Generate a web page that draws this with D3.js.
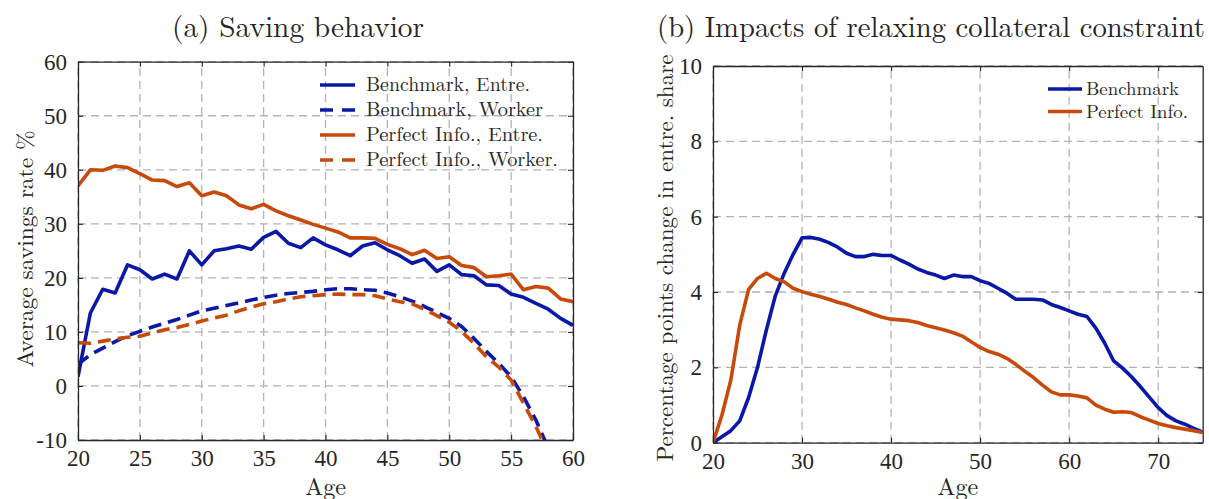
<!DOCTYPE html>
<html>
<head>
<meta charset="utf-8">
<script src="https://cdn.jsdelivr.net/npm/d3@7"></script>
<style>
  body { margin: 0; background: #fff; }
  svg text { font-family: "Latin Modern Roman", "CMU Serif", "Liberation Serif", serif; fill: #262626; }
</style>
</head>
<body>
<div id="chart"></div>
<script>
// panel (a): saving behavior
let agesA = d3.range(20, 61);
let benchEntre = [1.7, 13.5, 17.9, 17.2, 22.4, 21.5, 19.8, 20.7, 19.8, 25.0,
    22.4, 25.0, 25.4, 25.9, 25.3, 27.5, 28.6, 26.4, 25.6, 27.4,
    26.1, 25.2, 24.1, 25.9, 26.5, 25.2, 24.1, 22.7, 23.5, 21.2,
    22.4, 20.6, 20.4, 18.7, 18.6, 17.0, 16.4, 15.3, 14.2, 12.5, 11.2];
let benchWorker = [4.0, 5.8, 7.0, 8.2, 9.3, 10.1, 10.9, 11.6, 12.3, 13.1,
    13.9, 14.4, 14.9, 15.4, 15.9, 16.4, 16.8, 17.1, 17.3, 17.5,
    17.8, 18.0, 18.0, 17.8, 17.7, 17.2, 16.5, 15.7, 14.7, 13.6,
    12.5, 11.0, 8.8, 6.4, 4.2, 1.7, -2.0, -6.3, -11.5, -17.5, -24];
let perfEntre = [37.0, 40.0, 39.9, 40.7, 40.4, 39.3, 38.1, 38.0, 36.9, 37.6,
    35.2, 35.9, 35.2, 33.5, 32.8, 33.6, 32.4, 31.5, 30.7, 29.9,
    29.2, 28.5, 27.4, 27.4, 27.3, 26.2, 25.4, 24.3, 25.1, 23.6,
    23.9, 22.3, 21.9, 20.2, 20.4, 20.7, 17.8, 18.4, 18.1, 16.1, 15.6];
let perfWorker = [8.0, 7.9, 8.3, 8.7, 9.0, 9.2, 9.8, 10.4, 10.8, 11.4,
    12.0, 12.6, 13.1, 13.9, 14.6, 15.2, 15.6, 16.1, 16.5, 16.7,
    16.9, 17.0, 16.9, 16.9, 16.7, 16.1, 15.6, 15.2, 14.2, 13.0,
    11.8, 10.1, 7.9, 5.4, 3.5, 1.1, -3.2, -7.5, -12.5, -18, -25];
let xTicksA = [20, 25, 30, 35, 40, 45, 50, 55, 60];
let yTicksA = [-10, 0, 10, 20, 30, 40, 50, 60];
let legendA = ["Benchmark, Entre.", "Benchmark, Worker", "Perfect Info., Entre.", "Perfect Info., Worker."];

// panel (b): impacts of relaxing collateral constraint
let agesB = d3.range(20, 76);
let benchB = [0, 0.16, 0.32, 0.58, 1.2, 2.0, 3.0, 3.9, 4.5, 5.0,
    5.44, 5.45, 5.4, 5.31, 5.19, 5.03, 4.94, 4.94, 5.0, 4.97,
    4.97, 4.85, 4.74, 4.61, 4.52, 4.45, 4.36, 4.45, 4.41, 4.41,
    4.30, 4.23, 4.10, 3.97, 3.81, 3.81, 3.81, 3.79, 3.67, 3.59,
    3.50, 3.41, 3.35, 3.04, 2.64, 2.17, 1.98, 1.75, 1.49, 1.21,
    0.93, 0.72, 0.58, 0.49, 0.38, 0.28];
let perfB = [0, 0.73, 1.66, 3.12, 4.07, 4.36, 4.5, 4.36, 4.27, 4.10,
    4.01, 3.94, 3.88, 3.81, 3.73, 3.67, 3.58, 3.50, 3.41, 3.33,
    3.28, 3.26, 3.24, 3.19, 3.11, 3.05, 2.99, 2.92, 2.83, 2.68,
    2.53, 2.42, 2.35, 2.24, 2.08, 1.90, 1.73, 1.53, 1.35, 1.27,
    1.27, 1.24, 1.19, 1.00, 0.89, 0.81, 0.82, 0.80, 0.69, 0.60,
    0.51, 0.45, 0.40, 0.36, 0.32, 0.27];
let xTicksB = [20, 30, 40, 50, 60, 70];
let yTicksB = [0, 2, 4, 6, 8, 10];
let legendB = ["Benchmark", "Perfect Info."];

let blue = "#0a18a8", orange = "#c84a0a";
let axisColor = "#262626", gridColor = "#b4b4b4";

let svg = d3.select("#chart").append("svg")
    .attr("width", 1209)
    .attr("height", 499);

// stretch Liberation glyphs a bit so the widths match the original CM text
function fitText(sel, w) {
    let n = sel.node().getComputedTextLength();
    if (n > 0) sel.attr("textLength", w).attr("lengthAdjust", "spacingAndGlyphs");
    return sel;
}

function drawPanel(cfg) {
    let x = d3.scaleLinear().domain(cfg.xDomain).range(cfg.xRange);
    let y = d3.scaleLinear().domain(cfg.yDomain).range(cfg.yRange);
    let g = svg.append("g");
    let x0 = cfg.xRange[0], x1 = cfg.xRange[1], y0 = cfg.yRange[0], y1 = cfg.yRange[1];

    // grid
    g.append("g").selectAll("line").data(cfg.xTicks).enter().append("line")
        .attr("x1", d => x(d)).attr("x2", d => x(d))
        .attr("y1", y0).attr("y2", y1)
        .style("stroke", gridColor).style("stroke-width", 1.3)
        .style("stroke-dasharray", "8,5");
    g.append("g").selectAll("line").data(cfg.yTicks).enter().append("line")
        .attr("x1", x0).attr("x2", x1)
        .attr("y1", d => y(d)).attr("y2", d => y(d))
        .style("stroke", gridColor).style("stroke-width", 1.3)
        .style("stroke-dasharray", "8,5");

    // series
    let clipId = "clip_" + cfg.id;
    g.append("clipPath").attr("id", clipId).append("rect")
        .attr("x", x0).attr("y", y1).attr("width", x1 - x0).attr("height", y0 - y1);
    let line = d3.line().x(d => x(d[0])).y(d => y(d[1]));
    let lines = g.append("g").attr("clip-path", "url(#" + clipId + ")");
    cfg.series.forEach(function (s) {
        lines.append("path")
            .datum(cfg.ages.map((a, i) => [a, s.values[i]]))
            .attr("d", line)
            .style("fill", "none")
            .style("stroke", s.color)
            .style("stroke-width", 3.6)
            .style("stroke-linejoin", "round")
            .style("stroke-dasharray", s.dashed ? "13,7" : null);
    });

    // axes: box with inward ticks on all sides
    let bottom = d3.axisBottom(x).tickValues(cfg.xTicks).tickSizeInner(-5).tickSizeOuter(0).tickPadding(10).tickFormat(d => String(d));
    let top = d3.axisTop(x).tickValues(cfg.xTicks).tickSizeInner(-5).tickSizeOuter(0).tickFormat("");
    let left = d3.axisLeft(y).tickValues(cfg.yTicks).tickSizeInner(-5).tickSizeOuter(0).tickPadding(11).tickFormat(d => String(d));
    let right = d3.axisRight(y).tickValues(cfg.yTicks).tickSizeInner(-5).tickSizeOuter(0).tickFormat("");

    let axes = [
        g.append("g").attr("transform", "translate(0," + y0 + ")").call(bottom),
        g.append("g").attr("transform", "translate(0," + y1 + ")").call(top),
        g.append("g").attr("transform", "translate(" + x0 + ",0)").call(left),
        g.append("g").attr("transform", "translate(" + x1 + ",0)").call(right)
    ];
    axes.forEach(function (a) {
        a.select(".domain").style("stroke", axisColor).style("stroke-width", 1.3);
        a.selectAll(".tick line").style("stroke", axisColor).style("stroke-width", 1.1);
        a.selectAll("text").style("font-size", "23px").style("fill", axisColor)
            .style("font-family", '"Liberation Serif", serif');
    });

    // title and labels
    fitText(g.append("text")
        .attr("x", cfg.titleX).attr("y", 37)
        .attr("text-anchor", "middle")
        .style("font-size", "29px")
        .text(cfg.title), cfg.titleW);

    fitText(g.append("text")
        .attr("x", (x0 + x1) / 2).attr("y", 495)
        .attr("text-anchor", "middle")
        .style("font-size", "24px")
        .text("Age"), 41);

    fitText(g.append("text")
        .attr("transform", "translate(" + cfg.yLabelX + "," + cfg.yLabelY + ") rotate(-90)")
        .attr("text-anchor", "middle")
        .style("font-size", "23px")
        .text(cfg.yLabel), cfg.yLabelW);

    // legend (no box)
    let leg = g.append("g");
    cfg.series.forEach(function (s, i) {
        let ly = cfg.legend.y + i * cfg.legend.step;
        leg.append("line")
            .attr("x1", cfg.legend.x1).attr("x2", cfg.legend.x2)
            .attr("y1", ly).attr("y2", ly)
            .style("stroke", s.color).style("stroke-width", 3.6)
            .style("stroke-dasharray", s.dashed ? "13,9" : null);
        fitText(leg.append("text")
            .attr("x", cfg.legend.tx).attr("y", ly + cfg.legend.dy)
            .style("font-size", cfg.legend.size + "px")
            .text(s.name), s.w);
    });
}

drawPanel({
    id: "a",
    ages: agesA,
    xDomain: [20, 60], xRange: [78, 573],
    yDomain: [-10, 60], yRange: [440, 61.7],
    xTicks: xTicksA, yTicks: yTicksA,
    title: "(a) Saving behavior", titleX: 298, titleW: 252,
    yLabel: "Average savings rate %", yLabelX: 33, yLabelY: 249, yLabelW: 237,
    series: [
        {name: legendA[0], values: benchEntre, color: blue, dashed: false, w: 164},
        {name: legendA[1], values: benchWorker, color: blue, dashed: true, w: 177},
        {name: legendA[2], values: perfEntre, color: orange, dashed: false, w: 177},
        {name: legendA[3], values: perfWorker, color: orange, dashed: true, w: 192}
    ],
    legend: {x1: 320, x2: 355, tx: 366, y: 85, step: 25, dy: 6, size: 19.5}
});

drawPanel({
    id: "b",
    ages: agesB,
    xDomain: [20, 75], xRange: [713, 1202.7],
    yDomain: [0, 10], yRange: [442.7, 66],
    xTicks: xTicksB, yTicks: yTicksB,
    title: "(b) Impacts of relaxing collateral constraint", titleX: 931, titleW: 548,
    yLabel: "Percentage points change in entre. share", yLabelX: 673, yLabelY: 258, yLabelW: 407,
    series: [
        {name: legendB[0], values: benchB, color: blue, dashed: false, w: 93},
        {name: legendB[1], values: perfB, color: orange, dashed: false, w: 102}
    ],
    legend: {x1: 1048, x2: 1082, tx: 1086, y: 89, step: 22.5, dy: 6, size: 18.5}
});
</script>
</body>
</html>
